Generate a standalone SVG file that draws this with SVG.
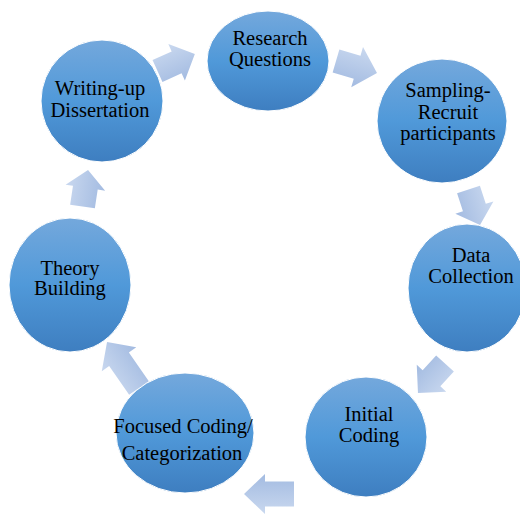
<svg xmlns="http://www.w3.org/2000/svg" width="520" height="514" viewBox="0 0 520 514">
<defs>
<linearGradient id="gc" x1="0" y1="0" x2="0" y2="1">
<stop offset="0" stop-color="#74a8dc"/>
<stop offset="0.5" stop-color="#5099d9"/>
<stop offset="1" stop-color="#3e7ec0"/>
</linearGradient>
<linearGradient id="ga" x1="0" y1="0" x2="0" y2="1">
<stop offset="0" stop-color="#c9d8ef"/>
<stop offset="1" stop-color="#a3bbe1"/>
</linearGradient>
</defs>
<style>
.n{fill:url(#gc);stroke:#ffffff;stroke-width:1}
.a{fill:url(#ga)}
text{font-family:"Liberation Serif","Times New Roman",serif;font-size:20.5px;fill:#000;text-anchor:middle}
</style>
<rect width="520" height="514" fill="#ffffff"/>
<g id="connectors">
<path class="a" d="M0,-12 H21 V-20 L41,0 L21,20 V12 H0 Z" transform="translate(157.5,71) rotate(-24.4)"/>
<path class="a" d="M0,-12 H22 V-21 L42.7,0 L22,21 V12 H0 Z" transform="translate(336,61) rotate(16.3)"/>
<path class="a" d="M0,-12 H19 V-20 L37.3,0 L19,20 V12 H0 Z" transform="translate(468.5,189.5) rotate(72)"/>
<path class="a" d="M0,-12 H20 V-20 L40,0 L20,20 V12 H0 Z" transform="translate(445,363.5) rotate(132.5)"/>
<path class="a" d="M0,-12.5 H29 V-20 L50,0 L29,20 V12.5 H0 Z" transform="translate(294,494) rotate(180)"/>
<path class="a" d="M0,-12 H35 V-21 L56,0 L35,21 V12 H0 Z" transform="translate(139,388) rotate(-124.8)"/>
<path class="a" d="M0,-12.5 H19 V-20 L37,0 L19,20 V12.5 H0 Z" transform="translate(82.5,206.5) rotate(-81.4)"/>
</g>
<g id="research">
<ellipse class="n" cx="268" cy="61" rx="61" ry="50"/>
<text x="270" y="45">Research</text>
<text x="270" y="66">Questions</text>
</g>
<g id="sampling">
<ellipse class="n" cx="442" cy="121" rx="65" ry="62"/>
<text x="448" y="97">Sampling-</text>
<text x="448" y="119">Recruit</text>
<text x="448" y="140">participants</text>
</g>
<g id="data">
<ellipse class="n" cx="467" cy="288" rx="59" ry="64"/>
<text x="471" y="262">Data</text>
<text x="471" y="283">Collection</text>
</g>
<g id="initial">
<ellipse class="n" cx="366" cy="437" rx="61" ry="60"/>
<text x="369" y="421">Initial</text>
<text x="369" y="442">Coding</text>
</g>
<g id="focused">
<ellipse class="n" cx="185" cy="433" rx="69" ry="60"/>
<text x="183" y="433">Focused Coding/</text>
<text x="182" y="460">Categorization</text>
</g>
<g id="theory">
<ellipse class="n" cx="70" cy="285" rx="61" ry="67"/>
<text x="70" y="275">Theory</text>
<text x="70" y="295">Building</text>
</g>
<g id="writing">
<ellipse class="n" cx="102" cy="101" rx="61" ry="61"/>
<text x="100" y="95">Writing-up</text>
<text x="100" y="117">Dissertation</text>
</g>
</svg>
